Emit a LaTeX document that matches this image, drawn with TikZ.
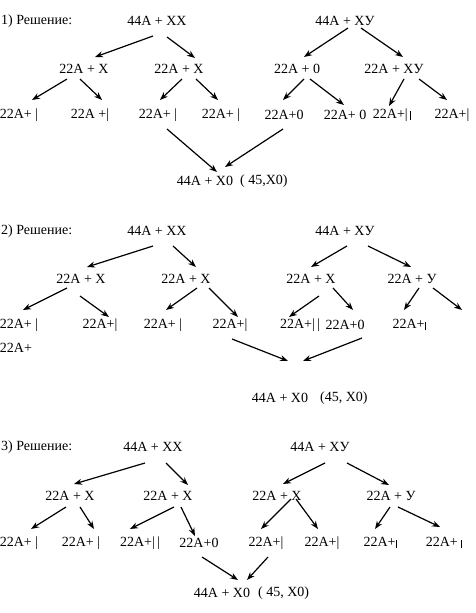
\documentclass[tikz,border=0pt]{standalone}
\usepackage{fontspec}
\setmainfont{Liberation Serif}
\usepackage{tikz}
\usetikzlibrary{arrows.meta}

% short chromosome bar
\newcommand{\kb}{\rule[-0.2ex]{0.9pt}{1.3ex}}

\begin{document}
\begin{tikzpicture}[x=1pt, y=-1pt, >={Stealth[length=8pt,width=6pt]},
    every node/.style={inner sep=0pt, font=\fontsize{14}{16}\selectfont},
    arr/.style={->, line width=1.2pt}]
    \useasboundingbox (0,0) rectangle (476,613);

    % ---- 1) ----
    \node[anchor=west] (t1) at (1,21) {1) Решение:};
    \node (s1)  at (157,21) {44А + ХХ};
    \node (s1b) at (345,21) {44А + ХУ};
    \node (n1a) at (84,69)  {22А + Х};
    \node (n1b) at (179,69) {22А + Х};
    \node (n1c) at (297,69) {22А + 0};
    \node (n1d) at (394,69) {22А + ХУ};
    \node (l1a) at (19,115)  {22А+ |};
    \node (l1b) at (90,115)  {22А +|};
    \node (l1c) at (158,115) {22А+ |};
    \node (l1d) at (221,115) {22А+ |};
    \node (l1e) at (284,115) {22А+0};
    \node (l1f) at (345,115) {22А+ 0};
    \node (l1g) at (392,115) {22А+|\,\kb};
    \node (l1h) at (452,115) {22А+|};
    \node (r1)  at (205,181) {44А + Х0};
    \node[anchor=west] (r1n) at (240,181) {( 45,Х0)};

    \draw[arr] ([shift={(-4,15)}]s1.center) -- ([shift={(11,-12)}]n1a.center);
    \draw[arr] ([shift={(10,16)}]s1.center) -- ([shift={(16,-11)}]n1b.center);
    \draw[arr] ([shift={(3,7)}]s1b.center) -- ([shift={(7,-12)}]n1c.center);
    \draw[arr] ([shift={(16,7)}]s1b.center) -- ([shift={(9,-12)}]n1d.center);
    \draw[arr] ([shift={(-17,10)}]n1a.center) -- ([shift={(13,-15)}]l1a.center);
    \draw[arr] ([shift={(-4,10)}]n1a.center) -- ([shift={(12,-15)}]l1b.center);
    \draw[arr] ([shift={(3,10)}]n1b.center) -- ([shift={(2,-15)}]l1c.center);
    \draw[arr] ([shift={(17,10)}]n1b.center) -- ([shift={(-3,-15)}]l1d.center);
    \draw[arr] ([shift={(7,10)}]n1c.center) -- ([shift={(-1,-15)}]l1e.center);
    \draw[arr] ([shift={(13,10)}]n1c.center) -- ([shift={(-1,-10)}]l1f.center);
    \draw[arr] ([shift={(10,10)}]n1d.center) -- ([shift={(-3,-9)}]l1g.center);
    \draw[arr] ([shift={(25,10)}]n1d.center) -- ([shift={(-5,-15)}]l1h.center);
    \draw[arr] ([shift={(9,14)}]l1c.center) -- ([shift={(12,-9)}]r1.center);
    \draw[arr] ([shift={(-1,14)}]l1e.center) -- ([shift={(20,-14)}]r1.center);

    % ---- 2) ----
    \node[anchor=west] (t2) at (1,231) {2) Решение:};
    \node (s2)  at (157,231) {44А + ХХ};
    \node (s2b) at (345,231) {44А + ХУ};
    \node (n2a) at (81,279)  {22А + Х};
    \node (n2b) at (186,279) {22А + Х};
    \node (n2c) at (311,279) {22А + Х};
    \node (n2d) at (412,279) {22А + У};
    \node (l2a) at (19,325)  {22А+ |};
    \node (l2b) at (100,325) {22А+|};
    \node (l2c) at (163,325) {22А+ |};
    \node (l2d) at (230,325) {22А+|};
    \node (l2e) at (300,325) {22А+|\,|};
    \node (l2f) at (345,325) {22А+0};
    \node (l2g) at (409,325) {22А+\kb};
    \node (l2x) at (16,348)  {22А+};
    \coordinate (l2h) at (462,310);
    \coordinate (m2) at (296,362);
    \node (r2)  at (280,398) {44А + Х0};
    \node[anchor=west] (r2n) at (320,398) {(45, Х0)};

    \draw[arr] ([shift={(-4,15)}]s2.center) -- ([shift={(6,-12)}]n2a.center);
    \draw[arr] ([shift={(16,15)}]s2.center) -- ([shift={(10,-12)}]n2b.center);
    \draw[arr] ([shift={(2,15)}]s2b.center) -- ([shift={(0,-12)}]n2c.center);
    \draw[arr] ([shift={(23,15)}]s2b.center) -- ([shift={(-1,-12)}]n2d.center);
    \draw[arr] ([shift={(-14,9)}]n2a.center) -- ([shift={(4,-15)}]l2a.center);
    \draw[arr] ([shift={(-1,17)}]n2a.center) -- ([shift={(9,-8)}]l2b.center);
    \draw[arr] ([shift={(11,9)}]n2b.center) -- ([shift={(3,-15)}]l2c.center);
    \draw[arr] ([shift={(23,9)}]n2b.center) -- ([shift={(8,-8)}]l2d.center);
    \draw[arr] ([shift={(8,17)}]n2c.center) -- ([shift={(-11,-8)}]l2e.center);
    \draw[arr] ([shift={(22,9)}]n2c.center) -- ([shift={(8,-15)}]l2f.center);
    \draw[arr] ([shift={(7,9)}]n2d.center) -- ([shift={(-5,-15)}]l2g.center);
    \draw[arr] ([shift={(21,9)}]n2d.center) -- (l2h);
    \draw[arr] ([shift={(2,14)}]l2d.center) -- ([shift={(-8,-1)}]m2);
    \draw[arr] ([shift={(17,13)}]l2f.center) -- ([shift={(7,-1)}]m2);

    % ---- 3) ----
    \node[anchor=west] (t3) at (1,447) {3) Решение:};
    \node (s3)  at (153,447) {44А + ХХ};
    \node (s3b) at (320,447) {44А + ХУ};
    \node (n3a) at (70,496)  {22А + Х};
    \node (n3b) at (168,496) {22А + Х};
    \node (n3c) at (277,496) {22А + Х};
    \node (n3d) at (391,496) {22А + У};
    \node (l3a) at (19,543)  {22А+ |};
    \node (l3b) at (81,543)  {22А+ |};
    \node (l3c) at (140,543) {22А+|\,|};
    \node (l3d) at (199,543) {22А+0};
    \node (l3e) at (266,543) {22А+|};
    \node (l3f) at (322,543) {22А+|};
    \node (l3g) at (380,543) {22А+\kb};
    \node (l3h) at (444,543) {22А+ \kb};
    \node (r3)  at (222,593) {44А + Х0};
    \node[anchor=west] (r3n) at (258,593) {( 45, Х0)};

    \draw[arr] ([shift={(-8,16)}]s3.center) -- ([shift={(4,-12)}]n3a.center);
    \draw[arr] ([shift={(13,16)}]s3.center) -- ([shift={(20,-11)}]n3b.center);
    \draw[arr] ([shift={(5,16)}]s3b.center) -- ([shift={(6,-12)}]n3c.center);
    \draw[arr] ([shift={(27,16)}]s3b.center) -- ([shift={(-2,-11)}]n3d.center);
    \draw[arr] ([shift={(-4,11)}]n3a.center) -- ([shift={(12,-14)}]l3a.center);
    \draw[arr] ([shift={(10,11)}]n3a.center) -- ([shift={(13,-14)}]l3b.center);
    \draw[arr] ([shift={(6,11)}]n3b.center) -- ([shift={(-10,-14)}]l3c.center);
    \draw[arr] ([shift={(13,11)}]n3b.center) -- ([shift={(-4,-7)}]l3d.center);
    \draw[arr] ([shift={(14,3)}]n3c.center) -- ([shift={(-5,-14)}]l3e.center);
    \draw[arr] ([shift={(19,3)}]n3c.center) -- ([shift={(-4,-14)}]l3f.center);
    \draw[arr] ([shift={(-1,11)}]n3d.center) -- ([shift={(-5,-14)}]l3g.center);
    \draw[arr] ([shift={(7,11)}]n3d.center) -- ([shift={(-4,-16)}]l3h.center);
    \draw[arr] ([shift={(3,14)}]l3d.center) -- ([shift={(16,-13)}]r3.center);
    \draw[arr] ([shift={(2,14)}]l3e.center) -- ([shift={(25,-13)}]r3.center);
\end{tikzpicture}
\end{document}
